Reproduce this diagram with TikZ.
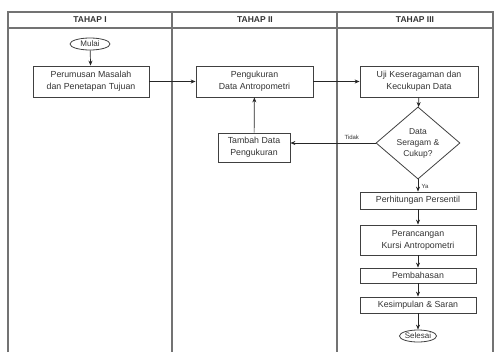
\documentclass[tikz,border=0pt]{standalone}
\usepackage{fontspec}
\setmainfont{Liberation Sans}
\usetikzlibrary{shapes.geometric,arrows.meta}
\begin{document}
\begin{tikzpicture}[x=1pt,y=-1pt,
  frame/.style={draw=black!55,line width=1.1pt},
  proc/.style={draw=black!75,line width=0.8pt,rectangle,inner sep=0pt,font=\fontsize{8.8}{12}\selectfont,align=center,text=black!80},
  term/.style={draw=black!75,line width=0.8pt,ellipse,inner sep=0pt,font=\fontsize{8}{9}\selectfont,text=black!80},
  dec/.style={draw=black!75,line width=0.8pt,diamond,inner sep=0pt,font=\fontsize{8.5}{11}\selectfont,align=center,text=black!80},
  hdr/.style={font=\fontsize{8.5}{9}\selectfont\bfseries,text=black!80},
  lab/.style={font=\fontsize{6}{7}\selectfont,text=black!80},
  arr/.style={draw=black!85,line width=0.7pt,-{Stealth[length=5pt,width=4pt]}}]
\useasboundingbox (0,0) rectangle (499,354);
% swimlane frame
\draw[frame] (8,352) -- (8,12) -- (493,12) -- (493,352);
\draw[frame] (8,28) -- (493,28);
\draw[frame] (172,12) -- (172,352);
\draw[frame] (337,12) -- (337,352);
\node[hdr] (h1) at (90,20) {TAHAP I};
\node[hdr] (h2) at (255,20) {TAHAP II};
\node[hdr] (h3) at (415,20) {TAHAP III};
% nodes
\node[term,minimum width=40,minimum height=12] (mulai) at (90,44) {Mulai};
\node[proc,minimum width=116,minimum height=31] (rumus) at (91,81.5) {Perumusan Masalah\\dan Penetapan Tujuan};
\node[proc,minimum width=117,minimum height=31] (ukur) at (254.5,81.5) {Pengukuran\\Data Antropometri};
\node[proc,minimum width=118,minimum height=31] (uji) at (419,81.5) {Uji Keseragaman dan\\Kecukupan Data};
\node[dec,minimum width=84,minimum height=64] (data) at (418,143) {Data\\Seragam \&\\Cukup?};
\node[proc,minimum width=72,minimum height=29] (tambah) at (254,147.5) {Tambah Data\\Pengukuran};
\node[proc,minimum width=116,minimum height=17] (persen) at (418,200.5) {Perhitungan Persentil};
\node[proc,minimum width=116,minimum height=30] (rancang) at (418,240) {Perancangan\\Kursi Antropometri};
\node[proc,minimum width=116,minimum height=15] (bahas) at (418,275.5) {Pembahasan};
\node[proc,minimum width=116,minimum height=16] (simpul) at (418,305) {Kesimpulan \& Saran};
\node[term,minimum width=36,minimum height=12] (selesai) at (418,336) {Selesai};
% connectors
\draw[arr] (mulai) -- (rumus);
\draw[arr] (rumus) -- (ukur);
\draw[arr] (ukur) -- (uji);
\draw[arr] (uji) -- (data);
\draw[arr] (data.west) -- node[lab,above,pos=0.28] {Tidak} (data.west -| tambah.east);
\draw[arr] (tambah) -- (ukur);
\draw[arr] (data.south) -- node[lab,right,pos=0.55] {Ya} (persen.north);
\draw[arr] (persen) -- (rancang);
\draw[arr] (rancang) -- (bahas);
\draw[arr] (bahas) -- (simpul);
\draw[arr] (simpul) -- (selesai);
\end{tikzpicture}
\end{document}
